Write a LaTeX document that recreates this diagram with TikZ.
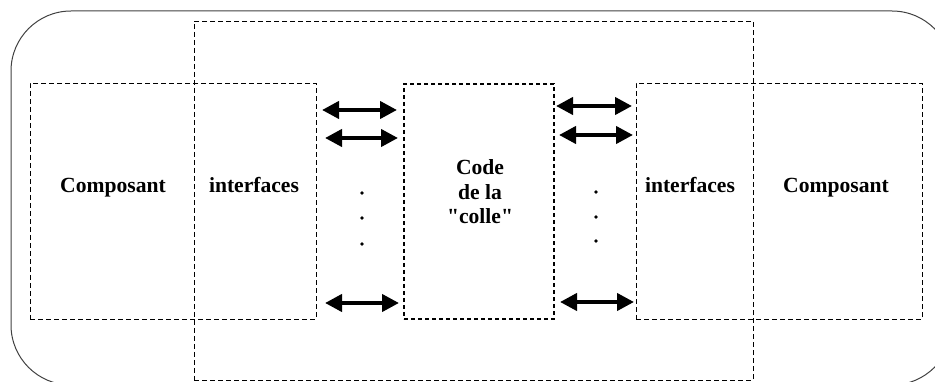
\documentclass[tikz,border=0pt]{standalone}
\usepackage{fontspec}
\setmainfont{Liberation Serif}[Ligatures=TeXOff]
\usetikzlibrary{arrows.meta}
\begin{document}
\begin{tikzpicture}[x=1pt,y=-1pt,
  dbox/.style={draw=black, line width=0.9pt, dash pattern=on 5pt off 3pt, inner sep=0pt, minimum width=#1},
  codebox/.style={draw=black, line width=1.5pt, dash pattern=on 4pt off 3pt, inner sep=0pt},
  outerbox/.style={draw=black!75, line width=1pt, rounded corners=60pt, inner sep=0pt},
  lbl/.style={font=\fontsize{21.6}{24.5}\selectfont\bfseries, align=center, inner sep=0pt},
  biarrow/.style={line width=4pt, {Triangle[length=17pt,width=17pt]}-{Triangle[length=17pt,width=17pt]}},
  dotmark/.style={circle, fill=black, inner sep=0pt, minimum size=3.8pt}
]
\useasboundingbox (0,0) rectangle (935,382);
\clip (0,0) rectangle (935,382);
% outer rounded shape
\node[outerbox, minimum width=941pt, minimum height=374pt] (outer) at (481.5,198) {};
% dashed boxes
\node[dbox=559pt, minimum height=359pt] (big) at (473.5,200.5) {};
\node[dbox=286pt, minimum height=236pt] (leftbox) at (173,201) {};
\node[dbox=286pt, minimum height=236pt] (rightbox) at (779,201) {};
\node[codebox, minimum width=150pt, minimum height=235pt] (code) at (479,201.5) {};
% labels
\node[lbl, anchor=base] (comp1) at (113,193) {Composant};
\node[lbl, anchor=base] (int1) at (254,193) {interfaces};
\node[lbl] (colle) at (480,192) {Code\\de la\\"colle"};
\node[lbl, anchor=base] (int2) at (690,193) {interfaces};
\node[lbl, anchor=base] (comp2) at (836,193) {Composant};
% arrows left
\coordinate (la1) at (322,110); \coordinate (lb1) at (397,110);
\coordinate (la2) at (325,138); \coordinate (lb2) at (398,138);
\coordinate (la3) at (325,303); \coordinate (lb3) at (399,303);
\draw[biarrow] (la1) -- (lb1);
\draw[biarrow] (la2) -- (lb2);
\draw[biarrow] (la3) -- (lb3);
% arrows right
\coordinate (ra1) at (556,106); \coordinate (rb1) at (632,106);
\coordinate (ra2) at (559,135); \coordinate (rb2) at (633,135);
\coordinate (ra3) at (560,302); \coordinate (rb3) at (634,302);
\draw[biarrow] (ra1) -- (rb1);
\draw[biarrow] (ra2) -- (rb2);
\draw[biarrow] (ra3) -- (rb3);
% dots
\node[dotmark] (ld1) at (362,193) {};
\node[dotmark] (ld2) at (362,218) {};
\node[dotmark] (ld3) at (362,244) {};
\node[dotmark] (rd1) at (596,192) {};
\node[dotmark] (rd2) at (596,217) {};
\node[dotmark] (rd3) at (596,241) {};
\end{tikzpicture}
\end{document}
